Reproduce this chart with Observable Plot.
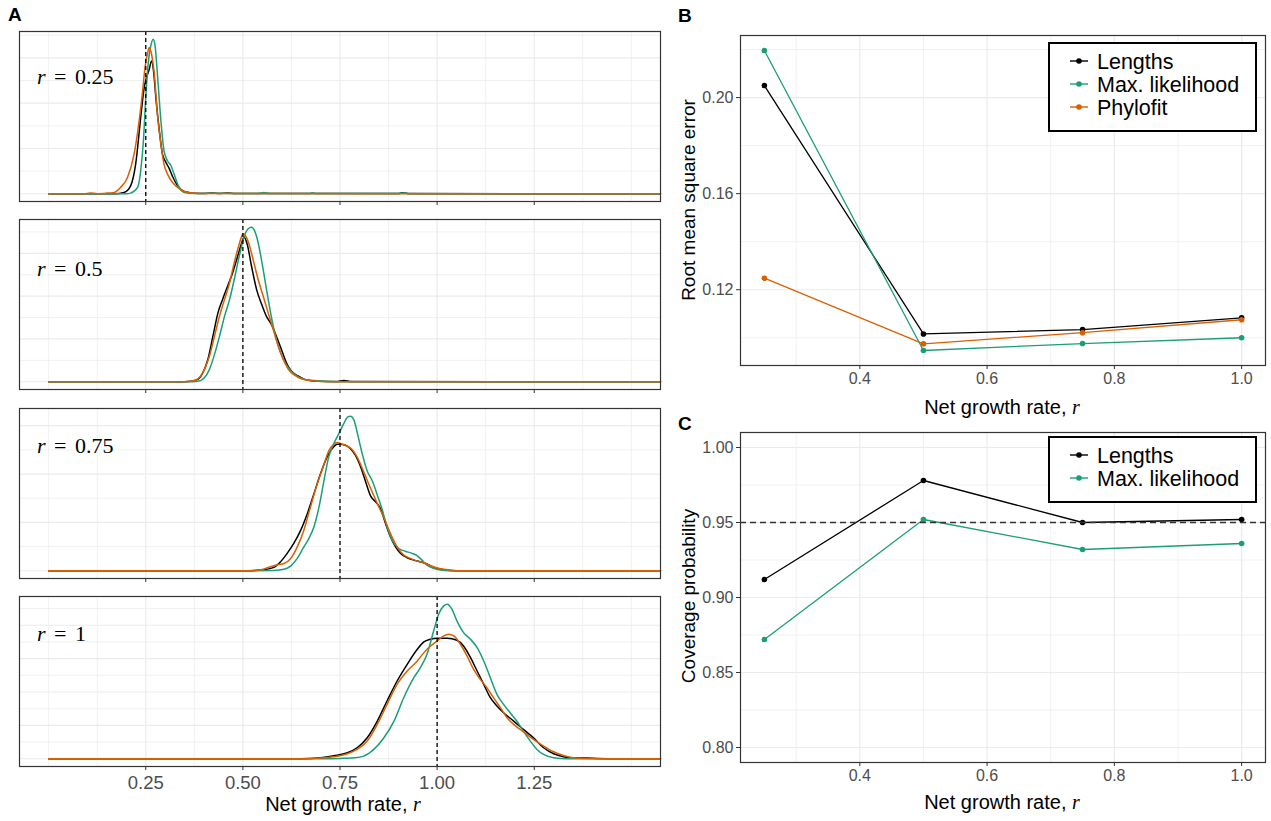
<!DOCTYPE html>
<html>
<head>
<meta charset="utf-8">
<script src="https://cdn.jsdelivr.net/npm/d3@7"></script>
<script src="https://cdn.jsdelivr.net/npm/@observablehq/plot@0.6"></script>
<style>
  html, body { margin: 0; padding: 0; background: #ffffff; }
  #root { position: relative; width: 1271px; height: 821px; overflow: hidden; font-family: "Liberation Sans", Arial, sans-serif; }
  #root svg { position: absolute; }
</style>
</head>
<body>
<div id="root"></div>
<script>
// ---------------- DATA ----------------
const seriesNames = ["Lengths", "Max. likelihood", "Phylofit"];
const seriesColors = ["#000000", "#1b9e77", "#d95f02"];

// Panel A: posterior / estimate densities, [r, density]
const lengths_r025 = [[0,0],[0.17,0],[0.194,0.15],[0.211,0.88],[0.224,3.27],[0.237,8.42],[0.246,11.73],[0.252,12.83],[0.259,13.75],[0.265,14.67],[0.27,13.57],[0.276,10.62],[0.285,6.95],[0.293,4.37],[0.302,3.46],[0.31,2.83],[0.319,1.91],[0.332,0.88],[0.349,0.26],[0.375,0.07],[0.4,0.03],[0.42,0.09],[0.44,0.03],[0.46,0.09],[0.48,0.03],[0.52,0.02],[0.9,0.02],[0.91,0.1],[0.93,0.02],[1.575,0]];
const ml_r025 = [[0,0],[0.2,0],[0.211,0.07],[0.229,0.7],[0.237,2.54],[0.244,5.85],[0.25,10.62],[0.256,14.3],[0.263,16.32],[0.269,17.06],[0.274,16.32],[0.28,13.2],[0.289,8.05],[0.297,4.74],[0.306,3.64],[0.315,3.09],[0.323,2.17],[0.336,0.7],[0.349,0.15],[0.375,0.04],[0.42,0.06],[0.47,0.03],[0.54,0.02],[0.554,0.13],[0.568,0.02],[0.67,0.02],[0.679,0.1],[0.69,0.02],[0.9,0.02],[0.912,0.09],[0.925,0.01],[1.575,0]];
const phylofit_r025 = [[0,0],[0.09,0],[0.108,0.08],[0.125,0.01],[0.14,0.02],[0.152,0.08],[0.165,0.1],[0.185,0.7],[0.203,1.8],[0.22,4.37],[0.233,8.05],[0.242,11.36],[0.248,13.93],[0.255,15.59],[0.259,16.14],[0.265,15.4],[0.272,13.2],[0.28,8.79],[0.289,5.48],[0.297,3.27],[0.306,2.17],[0.319,1.25],[0.332,0.7],[0.349,0.26],[0.375,0.07],[0.4,0.02],[1.575,0]];

const lengths_r050 = [[0,0],[0.35,0],[0.366,0.02],[0.384,0.11],[0.397,0.42],[0.41,1.05],[0.423,2.14],[0.436,3.23],[0.448,3.86],[0.461,4.48],[0.474,5.11],[0.487,5.89],[0.496,6.44],[0.503,6.75],[0.511,6.44],[0.522,5.42],[0.535,4.33],[0.548,3.63],[0.56,3.08],[0.573,2.69],[0.586,2.14],[0.599,1.52],[0.612,0.89],[0.625,0.5],[0.642,0.27],[0.659,0.11],[0.677,0.05],[0.694,0.02],[0.74,0.01],[0.76,0.06],[0.78,0.01],[1.575,0]];
const ml_r050 = [[0,0],[0.37,0],[0.384,0.02],[0.401,0.19],[0.414,0.58],[0.427,1.28],[0.44,2.14],[0.453,3.08],[0.466,3.86],[0.478,4.8],[0.491,5.89],[0.504,6.83],[0.513,7.14],[0.522,7.22],[0.53,7.06],[0.539,6.52],[0.552,5.27],[0.565,3.86],[0.578,2.61],[0.591,1.67],[0.604,1.05],[0.617,0.66],[0.634,0.34],[0.651,0.16],[0.668,0.08],[0.694,0.05],[0.711,0.02],[0.74,0],[1.575,0]];
const phylofit_r050 = [[0,0],[0.35,0],[0.366,0.02],[0.384,0.14],[0.401,0.58],[0.414,1.2],[0.427,2.14],[0.44,3.08],[0.453,3.86],[0.466,4.64],[0.478,5.58],[0.487,6.2],[0.496,6.75],[0.5,6.91],[0.509,6.75],[0.517,6.36],[0.526,5.73],[0.539,4.8],[0.552,4.02],[0.565,3.23],[0.578,2.45],[0.591,1.67],[0.604,1.05],[0.617,0.58],[0.634,0.3],[0.651,0.14],[0.677,0.05],[0.694,0.02],[0.72,0],[1.575,0]];

const lengths_r075 = [[0,0],[0.511,0],[0.546,0.03],[0.58,0.14],[0.597,0.37],[0.614,0.72],[0.631,1.13],[0.649,1.68],[0.666,2.37],[0.683,3.19],[0.7,4.02],[0.717,4.71],[0.73,5.05],[0.743,5.23],[0.751,5.23],[0.764,5.19],[0.777,5.05],[0.79,4.77],[0.803,4.3],[0.816,3.68],[0.829,3.09],[0.841,2.86],[0.854,2.58],[0.867,1.96],[0.88,1.4],[0.893,0.99],[0.906,0.72],[0.923,0.54],[0.94,0.44],[0.957,0.37],[0.974,0.28],[0.991,0.14],[1.009,0.06],[1.034,0.01],[1.06,0],[1.575,0]];
const ml_r075 = [[0,0],[0.511,0],[0.58,0.01],[0.606,0.06],[0.623,0.19],[0.64,0.51],[0.657,0.99],[0.67,1.34],[0.683,1.82],[0.696,2.64],[0.709,3.75],[0.721,4.71],[0.734,5.26],[0.747,5.67],[0.76,6.09],[0.77,6.36],[0.777,6.39],[0.786,6.23],[0.794,5.74],[0.807,4.85],[0.82,4.13],[0.833,3.72],[0.846,3.13],[0.859,2.51],[0.871,1.82],[0.884,1.27],[0.901,0.92],[0.918,0.81],[0.936,0.72],[0.949,0.62],[0.961,0.44],[0.974,0.23],[0.991,0.1],[1.009,0.03],[1.034,0],[1.575,0]];
const phylofit_r075 = [[0,0],[0.511,0],[0.546,0.04],[0.571,0.17],[0.589,0.25],[0.606,0.3],[0.623,0.51],[0.64,0.99],[0.657,1.68],[0.674,2.64],[0.691,3.58],[0.709,4.41],[0.721,4.96],[0.734,5.23],[0.743,5.3],[0.756,5.23],[0.769,5.15],[0.781,5.01],[0.794,4.71],[0.811,4.09],[0.829,3.4],[0.846,2.78],[0.863,2.2],[0.88,1.54],[0.897,0.99],[0.914,0.65],[0.931,0.51],[0.948,0.41],[0.966,0.33],[0.983,0.21],[1.009,0.08],[1.034,0.03],[1.06,0],[1.575,0]];

const lengths_r100 = [[0,0],[0.65,0],[0.7,0.03],[0.734,0.09],[0.769,0.18],[0.794,0.33],[0.82,0.63],[0.846,1.13],[0.871,1.73],[0.897,2.33],[0.923,2.83],[0.949,3.28],[0.966,3.5],[0.983,3.58],[1.0,3.61],[1.026,3.61],[1.051,3.55],[1.068,3.38],[1.086,3.03],[1.103,2.63],[1.12,2.23],[1.137,1.83],[1.154,1.58],[1.171,1.38],[1.197,1.13],[1.222,0.88],[1.248,0.63],[1.274,0.33],[1.3,0.15],[1.325,0.06],[1.351,0.02],[1.385,0.02],[1.411,0.01],[1.471,0],[1.575,0]];
const ml_r100 = [[0,0],[0.7,0],[0.751,0.01],[0.786,0.03],[0.811,0.08],[0.837,0.28],[0.863,0.63],[0.889,1.13],[0.914,1.83],[0.94,2.43],[0.957,2.73],[0.974,3.13],[0.991,3.83],[1.004,4.33],[1.017,4.58],[1.026,4.63],[1.038,4.48],[1.051,4.13],[1.068,3.78],[1.086,3.58],[1.103,3.33],[1.12,2.93],[1.137,2.43],[1.154,1.93],[1.171,1.63],[1.188,1.38],[1.205,1.13],[1.222,0.83],[1.24,0.53],[1.257,0.28],[1.274,0.13],[1.3,0.03],[1.334,0],[1.575,0]];
const phylofit_r100 = [[0,0],[0.65,0],[0.7,0.02],[0.734,0.06],[0.769,0.15],[0.794,0.28],[0.82,0.53],[0.846,1.03],[0.871,1.63],[0.897,2.23],[0.923,2.63],[0.949,2.93],[0.966,3.18],[0.983,3.38],[1.0,3.53],[1.017,3.68],[1.03,3.73],[1.043,3.68],[1.06,3.43],[1.077,3.08],[1.094,2.68],[1.111,2.38],[1.128,2.13],[1.145,1.83],[1.163,1.53],[1.18,1.23],[1.197,1.03],[1.214,0.88],[1.231,0.73],[1.248,0.58],[1.274,0.38],[1.3,0.21],[1.325,0.1],[1.351,0.03],[1.385,0.01],[1.471,0],[1.575,0]];

const trueR = [0.25, 0.5, 0.75, 1];
const facetLabels = ["0.25", "0.5", "0.75", "1"];
const xTicksA = [0.25, 0.5, 0.75, 1, 1.25];

// Panels B and C
const rValues = [0.25, 0.5, 0.75, 1.0];
const rmseLengths = [0.2050, 0.1016, 0.1034, 0.1083];
const rmseML = [0.2196, 0.0947, 0.0976, 0.1000];
const rmsePhylofit = [0.1248, 0.0975, 0.1021, 0.1075];
const coverageLengths = [0.912, 0.978, 0.950, 0.952];
const coverageML = [0.872, 0.952, 0.932, 0.936];
const nominalCoverage = 0.95;
const xTicksBC = [0.4, 0.6, 0.8, 1.0];
const yTicksB = [0.12, 0.16, 0.20];
const yTicksC = [0.80, 0.85, 0.90, 0.95, 1.00];

// ---------------- BUILD ----------------
const root = document.getElementById("root");
const FONT = "'Liberation Sans', Arial, sans-serif";
const GRID = "#ebebeb";
const place = (el, left, top) => { el.style.left = left + "px"; el.style.top = top + "px"; root.appendChild(el); };

const toRows = (pts, series) => pts.map(([r, d]) => ({r, d, series}));

const facets = [
  {lengths: lengths_r025, ml: ml_r025, phylo: phylofit_r025, step: 2.5, top: 31},
  {lengths: lengths_r050, ml: ml_r050, phylo: phylofit_r050, step: 1, top: 219},
  {lengths: lengths_r075, ml: ml_r075, phylo: phylofit_r075, step: 1, top: 408},
  {lengths: lengths_r100, ml: ml_r100, phylo: phylofit_r100, step: 0.5, top: 596}
];
const frameH = 170;
const xMinorA = d3.range(0, 1.5001, 0.125).filter(v => !xTicksA.some(t => Math.abs(t - v) < 1e-9));

facets.forEach((f, i) => {
  const isLast = i === facets.length - 1;
  const rows = [...toRows(f.lengths, seriesNames[0]), ...toRows(f.ml, seriesNames[1]), ...toRows(f.phylo, seriesNames[2])];
  const max = d3.max(rows, d => d.d);
  const yDomain = [-0.05 * max, 1.05 * max];
  const gy = d3.range(0, yDomain[1], f.step);
  const gyMajor = gy.filter((v, k) => k % 2 === 0);
  const gyMinor = gy.filter((v, k) => k % 2 === 1);
  const mt = 2, mb = isLast ? 30 : 8;
  const svg = Plot.plot({
    width: 670, height: frameH + mt + mb,
    marginLeft: 19, marginRight: 10, marginTop: mt, marginBottom: mb,
    x: {domain: [-0.075, 1.575], label: null},
    y: {domain: yDomain, axis: null},
    color: {domain: seriesNames, range: seriesColors},
    style: {fontFamily: FONT, fontSize: "18px", background: "transparent", color: "#333333"},
    marks: [
      Plot.ruleX(xMinorA, {stroke: GRID, strokeWidth: 0.7}),
      Plot.ruleX(xTicksA, {stroke: GRID, strokeWidth: 1.2}),
      Plot.ruleY(gyMinor, {stroke: GRID, strokeWidth: 0.7}),
      Plot.ruleY(gyMajor, {stroke: GRID, strokeWidth: 1.2}),
      Plot.line(rows, {x: "r", y: "d", z: "series", stroke: "series", strokeWidth: 1.5, curve: "monotone-x"}),
      Plot.ruleX([trueR[i]], {stroke: "#000000", strokeWidth: 1.3, strokeDasharray: "4,3"}),
      Plot.frame({stroke: "#333333", strokeWidth: 1.2}),
      Plot.axisX(xTicksA, {
        tickSize: 4, tickPadding: 5, label: null,
        tickFormat: isLast ? d3.format(".2f") : () => "",
        stroke: "#333333", fill: "#4d4d4d", fontSize: 18.5
      })
    ]
  });
  place(svg, 0, f.top - mt);
});

function panel(opts) {
  const {series, yDomain, yTicks, yMinor, top, hline} = opts;
  const rows = [];
  series.forEach(s => s.values.forEach((v, k) => rows.push({r: rValues[k], v, series: s.name})));
  const marks = [
    Plot.ruleX([0.3, 0.5, 0.7, 0.9], {stroke: GRID, strokeWidth: 0.7}),
    Plot.ruleX(xTicksBC, {stroke: GRID, strokeWidth: 1.2}),
    Plot.ruleY(yMinor, {stroke: GRID, strokeWidth: 0.7}),
    Plot.ruleY(yTicks, {stroke: GRID, strokeWidth: 1.2}),
    Plot.line(rows, {x: "r", y: "v", z: "series", stroke: "series", strokeWidth: 1.3}),
    Plot.dot(rows, {x: "r", y: "v", fill: "series", r: 2.8})
  ];
  if (hline != null) marks.push(Plot.ruleY([hline], {stroke: "#333333", strokeWidth: 1.4, strokeDasharray: "6,4"}));
  marks.push(
    Plot.frame({stroke: "#333333", strokeWidth: 1.2}),
    Plot.axisX(xTicksBC, {tickSize: 4, tickPadding: 3, tickFormat: d3.format(".1f"), label: null, stroke: "#333333", fill: "#4d4d4d", fontSize: 16}),
    Plot.axisY(yTicks, {tickSize: 4, tickPadding: 3, tickFormat: d3.format(".2f"), label: null, stroke: "#333333", fill: "#4d4d4d", fontSize: 16})
  );
  const svg = Plot.plot({
    width: 591, height: 368,
    marginLeft: 60, marginRight: 6, marginTop: 10, marginBottom: 28,
    x: {domain: [0.2125, 1.0375], label: null},
    y: {domain: yDomain, label: null},
    color: {domain: seriesNames, range: seriesColors},
    style: {fontFamily: FONT, fontSize: "16px", background: "transparent", color: "#333333"},
    marks
  });
  place(svg, 680, top);
}

const allB = [...rmseLengths, ...rmseML, ...rmsePhylofit];
const bMin = d3.min(allB), bMax = d3.max(allB), bPad = 0.05 * (bMax - bMin);
panel({
  series: [{name: "Lengths", values: rmseLengths}, {name: "Max. likelihood", values: rmseML}, {name: "Phylofit", values: rmsePhylofit}],
  yDomain: [bMin - bPad, bMax + bPad], yTicks: yTicksB, yMinor: [0.10, 0.14, 0.18, 0.22], top: 25
});
panel({
  series: [{name: "Lengths", values: coverageLengths}, {name: "Max. likelihood", values: coverageML}],
  yDomain: [0.79, 1.01], yTicks: yTicksC, yMinor: [0.825, 0.875, 0.925, 0.975], top: 422, hline: nominalCoverage
});

// ---------------- TEXT OVERLAY ----------------
const ov = d3.select(root).append("svg")
  .attr("width", 1271).attr("height", 821)
  .style("left", "0px").style("top", "0px").style("pointer-events", "none")
  .attr("font-family", FONT);

[["A", 8, 21], ["B", 678, 22], ["C", 678, 430]].forEach(([t, x, y]) =>
  ov.append("text").attr("x", x).attr("y", y).attr("font-size", 19).attr("font-weight", "bold").attr("fill", "#000").text(t));

// facet labels (math style)
const facetBaselines = [84, 276, 453, 641];
facetLabels.forEach((lab, i) => {
  const t = ov.append("text").attr("x", 37).attr("y", facetBaselines[i])
    .attr("font-family", "'Liberation Serif', 'DejaVu Serif', serif").attr("font-size", 22).attr("fill", "#000");
  t.append("tspan").attr("font-style", "italic").text("r");
  t.append("tspan").attr("dx", 3).text(" = ");
  t.append("tspan").attr("dx", 3).text(lab);
});

// axis titles
function xTitle(cx, y) {
  const t = ov.append("text").attr("x", cx).attr("y", y).attr("text-anchor", "middle").attr("font-size", 20).attr("fill", "#000");
  t.append("tspan").text("Net growth rate, ");
  t.append("tspan").attr("font-family", "'Liberation Serif', serif").attr("font-style", "italic").text("r");
}
xTitle(343, 811);
xTitle(1002, 414);
xTitle(1002, 809);
function yTitle(x, cy, label) {
  ov.append("text").attr("transform", `translate(${x},${cy}) rotate(-90)`).attr("text-anchor", "middle")
    .attr("font-size", 19).attr("fill", "#000").text(label);
}
yTitle(695, 200, "Root mean square error");
yTitle(695, 596, "Coverage probability");

// legends
function legend(x, y, w, entries) {
  const h = 19 + entries.length * 23;
  ov.append("rect").attr("x", x).attr("y", y).attr("width", w).attr("height", h)
    .attr("fill", "#fff").attr("stroke", "#000").attr("stroke-width", 2);
  entries.forEach((name, k) => {
    const cy = y + 18 + k * 23;
    const col = seriesColors[seriesNames.indexOf(name)];
    ov.append("line").attr("x1", x + 21).attr("x2", x + 39).attr("y1", cy).attr("y2", cy).attr("stroke", col).attr("stroke-width", 1.4);
    ov.append("circle").attr("cx", x + 30).attr("cy", cy).attr("r", 2.8).attr("fill", col);
    ov.append("text").attr("x", x + 48).attr("y", cy + 7.5).attr("font-size", 21.5).attr("fill", "#000").text(name);
  });
}
legend(1049, 43, 207, seriesNames);
legend(1049, 437, 207, seriesNames.slice(0, 2));
</script>
</body>
</html>
